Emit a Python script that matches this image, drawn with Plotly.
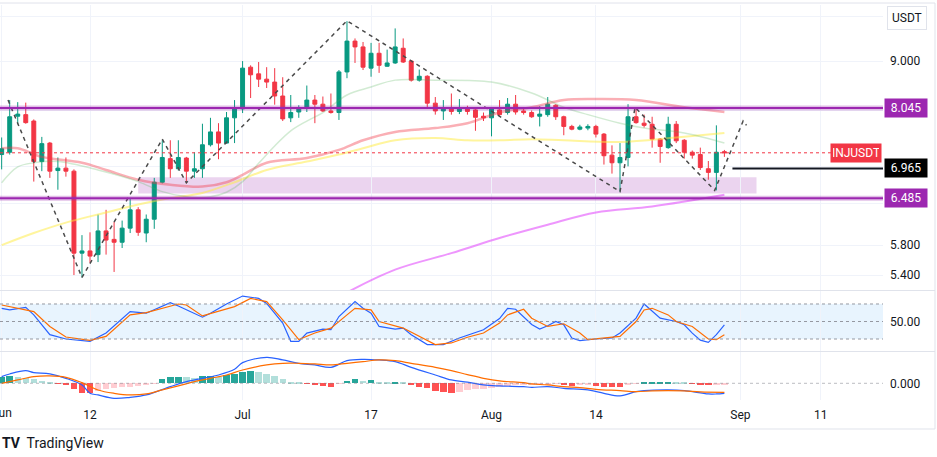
import math
import pandas as pd
import plotly.graph_objects as go

# daily candles, INJUSDT, Jun 1 - Aug 30 2023
dates = pd.date_range("2023-06-01", "2023-08-30", freq="D")

opens = [7.20, 7.24, 7.89, 7.92, 7.80, 7.08, 7.40, 6.93, 6.97, 6.92, 5.69, 5.72, 5.67, 6.00, 5.88,
         5.84, 6.04, 6.31, 5.97, 6.17, 6.74, 7.13, 6.96, 7.14, 6.92, 6.96, 7.37, 7.60, 7.40, 7.86,
         8.03, 8.87, 8.73, 8.62, 8.56, 8.28, 7.86, 7.97, 8.05, 8.20, 8.12, 7.99, 7.96, 8.77, 9.44,
         9.31, 8.85, 9.17, 8.89, 8.96, 9.28, 9.00, 8.60, 8.68, 8.14, 7.99, 8.04, 7.98, 8.04, 8.01, 7.89,
         7.86, 8.01, 7.96, 8.12, 7.99, 7.96, 7.89, 7.92, 8.10, 7.88, 7.70, 7.65, 7.67, 7.70, 7.56,
         7.19, 7.06, 7.15, 7.88, 7.76, 7.74, 7.47, 7.32, 7.74, 7.45, 7.24, 7.20, 6.96, 6.90, 7.25]
highs = [7.50, 8.20, 8.16, 8.15, 7.83, 7.51, 7.42, 7.15, 7.15, 6.95, 5.94, 5.98, 6.24, 6.31, 6.13,
         6.15, 6.48, 6.35, 6.24, 6.81, 7.45, 7.45, 7.45, 7.16, 7.24, 7.75, 7.86, 7.76, 7.97, 8.20,
         9.00, 8.91, 8.98, 8.87, 8.85, 8.66, 8.30, 8.10, 8.49, 8.30, 8.27, 8.33, 8.81, 9.90, 9.50,
         9.42, 9.40, 9.40, 9.25, 9.73, 9.50, 9.02, 8.82, 8.70, 8.26, 8.20, 8.33, 8.22, 8.09, 8.05, 7.96,
         8.05, 8.20, 8.24, 8.30, 8.06, 8.00, 8.08, 8.26, 8.12, 7.90, 7.73, 7.73, 7.74, 7.73, 7.58,
         7.36, 7.40, 8.12, 8.06, 7.92, 7.88, 7.49, 7.88, 7.80, 7.47, 7.27, 7.32, 7.09, 7.72, 7.28]
lows = [6.95, 7.20, 7.74, 7.75, 6.75, 6.92, 6.81, 6.62, 6.83, 5.40, 5.37, 5.56, 5.57, 5.67, 5.44,
        5.76, 5.97, 5.93, 5.84, 6.03, 6.72, 6.81, 6.93, 6.72, 6.81, 6.81, 7.34, 7.12, 7.39, 7.40,
        7.95, 8.24, 8.46, 8.44, 8.11, 7.80, 7.78, 7.86, 7.97, 7.76, 7.97, 7.94, 7.82, 8.64, 8.96,
        8.81, 8.67, 8.75, 8.88, 8.94, 8.96, 8.57, 8.57, 8.04, 7.92, 7.82, 7.92, 7.93, 7.92, 7.62, 7.80,
        7.52, 7.90, 7.92, 7.92, 7.92, 7.86, 7.70, 7.88, 7.82, 7.54, 7.63, 7.63, 7.63, 7.50, 7.03,
        6.88, 6.59, 7.00, 7.75, 7.68, 7.32, 7.06, 7.30, 7.40, 7.13, 7.13, 6.94, 6.78, 6.61, 7.16]
closes = [7.30, 7.88, 7.93, 7.77, 7.08, 7.39, 6.92, 6.97, 6.92, 5.69, 5.72, 5.65, 6.00, 5.87, 5.84,
          6.04, 6.31, 5.98, 6.17, 6.74, 7.15, 6.96, 7.15, 6.92, 6.96, 7.37, 7.60, 7.40, 7.86, 8.03,
          8.85, 8.71, 8.62, 8.56, 8.28, 7.84, 7.96, 8.05, 8.20, 8.12, 7.99, 7.96, 8.77, 9.44, 9.31,
          8.87, 9.17, 8.91, 8.96, 9.31, 8.98, 8.60, 8.68, 8.14, 7.99, 8.04, 7.98, 8.04, 7.98, 7.87, 7.86,
          8.03, 7.92, 8.12, 7.97, 7.96, 7.88, 7.93, 8.12, 7.88, 7.70, 7.65, 7.69, 7.70, 7.56, 7.18,
          7.06, 7.15, 7.88, 7.77, 7.72, 7.47, 7.34, 7.74, 7.44, 7.24, 7.19, 6.98, 6.90, 7.24, 7.23]

# moving averages (read at a few dates)
ma20_dates = ["2023-06-01", "2023-06-03", "2023-06-05", "2023-06-08", "2023-06-13", "2023-06-18",
              "2023-06-21", "2023-06-24", "2023-06-27", "2023-06-29", "2023-07-01", "2023-07-03",
              "2023-07-05", "2023-07-07", "2023-07-09", "2023-07-11", "2023-07-14", "2023-07-17",
              "2023-07-20", "2023-07-25", "2023-08-01", "2023-08-06", "2023-08-10", "2023-08-13",
              "2023-08-17", "2023-08-20", "2023-08-25", "2023-08-30"]
ma20 = [6.73, 6.99, 7.06, 7.08, 6.94, 6.75, 6.59, 6.51, 6.51, 6.58, 6.75, 7.05, 7.35, 7.62, 7.80,
        7.96, 8.30, 8.46, 8.60, 8.60, 8.56, 8.34, 8.06, 7.92, 7.76, 7.67, 7.58, 7.40]

ma50_dates = ["2023-06-01", "2023-06-03", "2023-06-06", "2023-06-11", "2023-06-14", "2023-06-18",
              "2023-06-22", "2023-06-26", "2023-06-29", "2023-07-01", "2023-07-04", "2023-07-09",
              "2023-07-13", "2023-07-16", "2023-07-20", "2023-07-25", "2023-07-29", "2023-08-02",
              "2023-08-06", "2023-08-10", "2023-08-14", "2023-08-19", "2023-08-25", "2023-08-30"]
ma50 = [7.31, 7.31, 7.16, 7.06, 6.94, 6.78, 6.70, 6.67, 6.74, 6.86, 7.06, 7.14, 7.28, 7.45, 7.60,
        7.67, 7.76, 7.96, 8.06, 8.20, 8.22, 8.20, 8.06, 7.97]

ma100_dates = ["2023-06-01", "2023-06-05", "2023-06-09", "2023-06-14", "2023-06-18", "2023-06-22",
               "2023-06-26", "2023-06-30", "2023-07-04", "2023-07-09", "2023-07-13", "2023-07-16",
               "2023-07-20", "2023-07-25", "2023-07-29", "2023-08-02", "2023-08-06", "2023-08-10",
               "2023-08-17", "2023-08-24", "2023-08-30"]
ma100 = [5.80, 5.97, 6.12, 6.27, 6.39, 6.49, 6.57, 6.74, 6.94, 7.08, 7.20, 7.31, 7.45, 7.49, 7.45,
         7.45, 7.47, 7.45, 7.42, 7.50, 7.58]

ma200_dates = ["2023-07-14", "2023-07-20", "2023-07-27", "2023-08-02", "2023-08-08", "2023-08-14",
               "2023-08-21", "2023-08-30"]
ma200 = [5.18, 5.47, 5.69, 5.90, 6.09, 6.27, 6.36, 6.54]

# drawn zigzag path
zig_dates = ["2023-06-01 19:00", "2023-06-11", "2023-06-21", "2023-06-24", "2023-07-14",
             "2023-08-17", "2023-08-18 21:00", "2023-08-28 19:00", "2023-09-01 08:00", "2023-09-01 18:00"]
zig_prices = [8.20, 5.37, 7.47, 6.73, 9.91, 6.59, 8.06, 6.61, 7.80, 7.72]

# key levels
resistance = 8.045
support = 6.485
target = 6.965
last_price = 7.23
zone_low, zone_high = 6.56, 6.82

# stochastic RSI
k_dates = ["2023-06-01", "2023-06-02", "2023-06-04", "2023-06-05", "2023-06-07", "2023-06-09",
           "2023-06-12", "2023-06-14", "2023-06-17", "2023-06-19", "2023-06-22", "2023-06-23",
           "2023-06-26", "2023-06-27", "2023-06-29", "2023-07-01", "2023-07-03", "2023-07-04",
           "2023-07-06", "2023-07-07", "2023-07-08", "2023-07-09", "2023-07-11", "2023-07-12",
           "2023-07-13", "2023-07-15", "2023-07-16", "2023-07-17", "2023-07-18", "2023-07-20",
           "2023-07-21", "2023-07-22", "2023-07-24", "2023-07-26", "2023-07-28", "2023-07-30",
           "2023-07-31", "2023-08-02", "2023-08-03", "2023-08-04", "2023-08-06", "2023-08-07",
           "2023-08-08", "2023-08-09", "2023-08-10", "2023-08-11", "2023-08-12", "2023-08-14",
           "2023-08-16", "2023-08-17", "2023-08-19", "2023-08-20", "2023-08-22", "2023-08-24",
           "2023-08-25", "2023-08-26", "2023-08-27", "2023-08-28", "2023-08-29", "2023-08-30"]
k_vals = [72.6, 69.8, 74.3, 61.3, 27.4, 20, 16, 30.2, 67, 64.2, 82.3, 76.6, 57.4, 64.2, 80, 93.6,
          89.6, 81, 47.2, 16, 16, 30.2, 37, 35.9, 58.5, 84, 72.6, 64.2, 41.5, 37, 38.7, 27.4, 10.4,
          10.4, 21.7, 31.3, 35.9, 55, 72.6, 71, 45, 37, 42.6, 50, 44.3, 21.7, 17.2, 20, 21.7, 30.2,
          55.7, 80, 55.7, 50, 44.3, 30, 18, 14.3, 27.4, 44.3]

d_dates = ["2023-06-01", "2023-06-03", "2023-06-05", "2023-06-07", "2023-06-09", "2023-06-12",
           "2023-06-14", "2023-06-17", "2023-06-19", "2023-06-23", "2023-06-24", "2023-06-26",
           "2023-06-30", "2023-07-02", "2023-07-04", "2023-07-06", "2023-07-08", "2023-07-10",
           "2023-07-12", "2023-07-14", "2023-07-15", "2023-07-17", "2023-07-18", "2023-07-21",
           "2023-07-23", "2023-07-25", "2023-07-27", "2023-07-29", "2023-07-31", "2023-08-02",
           "2023-08-03", "2023-08-05", "2023-08-06", "2023-08-08", "2023-08-10", "2023-08-12",
           "2023-08-13", "2023-08-15", "2023-08-17", "2023-08-19", "2023-08-20", "2023-08-21",
           "2023-08-23", "2023-08-24", "2023-08-26", "2023-08-28", "2023-08-29", "2023-08-30"]
d_vals = [78.3, 72.6, 67, 41.5, 23.4, 17.7, 24.5, 61.3, 65.3, 80, 78.3, 59.6, 75.5, 89.6, 84, 52.8,
          18.9, 30.2, 38.7, 61.3, 72.6, 69.8, 50, 38.7, 24.5, 10.4, 13.2, 23, 30.2, 47.2, 61.3,
          70.9, 55.7, 41.5, 46.1, 30.2, 18.9, 21.7, 24.5, 50, 69.8, 72.6, 61.3, 50, 41.5, 20,
          18.9, 27.4]

# MACD
macd_dates = ["2023-06-01", "2023-06-02", "2023-06-04", "2023-06-05", "2023-06-07", "2023-06-09",
              "2023-06-11", "2023-06-12", "2023-06-13", "2023-06-15", "2023-06-17", "2023-06-19",
              "2023-06-22", "2023-06-24", "2023-06-26", "2023-06-28", "2023-06-30", "2023-07-01",
              "2023-07-04", "2023-07-06", "2023-07-08", "2023-07-10", "2023-07-12", "2023-07-14",
              "2023-07-16", "2023-07-18", "2023-07-20", "2023-07-22", "2023-07-25", "2023-07-27",
              "2023-07-29", "2023-07-31", "2023-08-02", "2023-08-05", "2023-08-06", "2023-08-08",
              "2023-08-10", "2023-08-13", "2023-08-15", "2023-08-17", "2023-08-19", "2023-08-20",
              "2023-08-23", "2023-08-25", "2023-08-28", "2023-08-29", "2023-08-30"]
macd_vals = [0.133, 0.187, 0.253, 0.213, 0.187, 0.10, -0.033, -0.2, -0.233, -0.30, -0.28, -0.233,
             -0.067, 0.033, 0.10, 0.167, 0.28, 0.413, 0.52, 0.467, 0.40, 0.367, 0.32, 0.453, 0.48,
             0.467, 0.433, 0.32, 0.167, 0.067, 0.025, -0.033, -0.053, -0.067, -0.08, -0.067, -0.10,
             -0.133, -0.2, -0.253, -0.167, -0.147, -0.133, -0.147, -0.213, -0.213, -0.2]

signal_dates = ["2023-06-01", "2023-06-03", "2023-06-05", "2023-06-07", "2023-06-09", "2023-06-11",
                "2023-06-13", "2023-06-15", "2023-06-17", "2023-06-19", "2023-06-21", "2023-06-23",
                "2023-06-25", "2023-06-27", "2023-06-29", "2023-07-01", "2023-07-04", "2023-07-06",
                "2023-07-08", "2023-07-10", "2023-07-12", "2023-07-14", "2023-07-16", "2023-07-18",
                "2023-07-20", "2023-07-22", "2023-07-25", "2023-07-27", "2023-07-29", "2023-07-31",
                "2023-08-02", "2023-08-05", "2023-08-06", "2023-08-08", "2023-08-10", "2023-08-12",
                "2023-08-14", "2023-08-17", "2023-08-19", "2023-08-21", "2023-08-23", "2023-08-25",
                "2023-08-27", "2023-08-30"]
signal_vals = [0.0, 0.067, 0.133, 0.147, 0.12, 0.013, -0.133, -0.2, -0.233, -0.213, -0.133, -0.053,
               0.033, 0.10, 0.167, 0.267, 0.367, 0.40, 0.40, 0.387, 0.367, 0.40, 0.433, 0.467,
               0.453, 0.40, 0.32, 0.253, 0.175, 0.10, 0.047, 0.013, -0.013, -0.033, -0.067, -0.087,
               -0.12, -0.147, -0.167, -0.153, -0.147, -0.153, -0.173, -0.18]

hist_vals = [0.133, 0.147, 0.133, 0.107, 0.08, 0.04, 0.013, -0.013, -0.04, -0.12, -0.187, -0.2,
             -0.147, -0.12, -0.093, -0.08, -0.067, -0.053, -0.027, -0.013, 0.08, 0.12, 0.133, 0.12,
             0.107, 0.147, 0.153, 0.133, 0.167, 0.187,
             0.227, 0.253, 0.233, 0.187, 0.147, 0.08, 0.033, 0.013, -0.013, -0.033, -0.053, -0.067,
             -0.013, 0.053, 0.087, 0.053, 0.067, 0.033, 0.013, 0.027, 0.007, -0.04, -0.067, -0.093,
             -0.147, -0.167, -0.187, -0.167, -0.14, -0.12, -0.107,
             -0.093, -0.073, -0.053, -0.04, -0.033, -0.027, -0.027, -0.02, -0.013, -0.04, -0.053,
             -0.033, -0.027, -0.06, -0.067, -0.073, -0.08, -0.027, -0.013, 0.013, 0.013, 0.02,
             0.027, 0.02, 0.013, -0.013, -0.027, -0.033, -0.027, -0.02]

tick_dates = ["2023-06-01", "2023-06-12", "2023-07-01", "2023-07-17", "2023-08-01", "2023-08-14",
              "2023-09-01", "2023-09-11"]
# "Jun" sits on the left edge, plotly would drop it, so it is drawn as an annotation
tick_text = ["", "12", "Jul", "17", "Aug", "14", "Sep", "11"]

# grid levels of the log price scale; the ones hidden behind level tags get no text
price_ticks = [5.4, 5.8, 6.4, 7.0, 8.0, 9.0, 10.0]
price_tick_text = ["5.400", "5.800", "", "", "", "9.000", ""]

UP = "#089981"
DOWN = "#f23645"
PURPLE = "#9c27b0"
X_START, X_END = "2023-05-31 19:00", "2023-09-18 18:00"

# histogram colours follow the usual TradingView rule (grow/fall above/below zero)
hist_colors = []
prev = None
for v in hist_vals:
    rising = prev is None or v >= prev
    if v >= 0:
        hist_colors.append("#26a69a" if rising else "#b2dfdb")
    else:
        hist_colors.append("#ffcdd2" if rising else "#ff5252")
    prev = v

fig = go.Figure()

fig.add_trace(go.Candlestick(
    x=dates, open=opens, high=highs, low=lows, close=closes,
    increasing=dict(line=dict(color=UP, width=1), fillcolor=UP),
    decreasing=dict(line=dict(color=DOWN, width=1), fillcolor=DOWN),
    whiskerwidth=0, yaxis="y", xaxis="x",
))

for xs, ys, col, w in [
    (ma200_dates, ma200, "rgba(224,64,251,0.55)", 2),
    (ma100_dates, ma100, "rgba(255,235,59,0.5)", 2),
    (ma50_dates, ma50, "rgba(242,54,69,0.4)", 2.5),
    (ma20_dates, ma20, "rgba(76,175,80,0.25)", 1.5),
]:
    fig.add_trace(go.Scatter(x=xs, y=ys, mode="lines", line=dict(color=col, width=w, shape="spline"),
                             yaxis="y", hoverinfo="skip"))

fig.add_trace(go.Scatter(x=zig_dates, y=zig_prices, mode="lines",
                         line=dict(color="#4a4a4a", width=1.5, dash="4px,4px"), yaxis="y"))

# stoch RSI
fig.add_trace(go.Scatter(x=k_dates, y=k_vals, mode="lines", line=dict(color="#2962ff", width=1.2),
                         yaxis="y2"))
fig.add_trace(go.Scatter(x=d_dates, y=d_vals, mode="lines", line=dict(color="#ff6d00", width=1.2),
                         yaxis="y2"))

# MACD
fig.add_trace(go.Bar(x=dates, y=hist_vals, marker=dict(color=hist_colors, line=dict(width=0)),
                     width=0.8 * 86400000, yaxis="y3"))
fig.add_trace(go.Scatter(x=macd_dates, y=macd_vals, mode="lines",
                         line=dict(color="#2962ff", width=1.2, shape="spline"), yaxis="y3"))
fig.add_trace(go.Scatter(x=signal_dates, y=signal_vals, mode="lines",
                         line=dict(color="#ff6d00", width=1.2, shape="spline"), yaxis="y3"))

shapes = []
# pane separators and frame
for yp in [0.2772, 0.1228, -0.0734]:
    shapes.append(dict(type="line", xref="paper", yref="paper", x0=0, x1=1.0589, y0=yp, y1=yp,
                       line=dict(color="#e0e3eb", width=1)))
shapes.append(dict(type="line", xref="paper", yref="paper", x0=1.0589, x1=1.0589, y0=-0.0734, y1=1.005,
                   line=dict(color="#e0e3eb", width=1)))
shapes.append(dict(type="line", xref="paper", yref="paper", x0=0, x1=1.0589, y0=1.005, y1=1.005,
                   line=dict(color="#e0e3eb", width=1)))

# support zone
shapes.append(dict(type="rect", xref="x", yref="y", x0="2023-06-18", x1="2023-09-03",
                   y0=zone_low, y1=zone_high, fillcolor="rgba(156,39,176,0.2)", line=dict(width=0),
                   layer="below"))
# horizontal levels
for lvl in [resistance, support]:
    shapes.append(dict(type="line", xref="paper", yref="y", x0=0, x1=1, y0=lvl, y1=lvl,
                       line=dict(color="rgba(156,39,176,0.3)", width=5)))
    shapes.append(dict(type="line", xref="paper", yref="y", x0=0, x1=1, y0=lvl, y1=lvl,
                       line=dict(color=PURPLE, width=2)))
shapes.append(dict(type="line", xref="x", yref="y", x0="2023-08-31", x1=X_END, y0=target, y1=target,
                   line=dict(color="#131722", width=2)))
shapes.append(dict(type="line", xref="paper", yref="y", x0=0, x1=0.942, y0=last_price, y1=last_price,
                   line=dict(color=DOWN, width=1, dash="dot")))

# stoch band
shapes.append(dict(type="rect", xref="x domain", yref="y2", x0=0, x1=1, y0=20, y1=80,
                   fillcolor="rgba(33,150,243,0.1)", line=dict(width=0), layer="below"))
for lvl in [80, 50, 20]:
    shapes.append(dict(type="line", xref="x domain", yref="y2", x0=0, x1=1, y0=lvl, y1=lvl,
                       line=dict(color="#9598a1", width=1, dash="3px,3px")))
shapes.append(dict(type="line", xref="x domain", yref="y3", x0=0, x1=1, y0=0, y1=0,
                   line=dict(color="rgba(120,123,134,0.5)", width=1, dash="3px,3px")))

annotations = [
    dict(text="USDT", xref="paper", yref="paper", x=1, y=0.968, xanchor="left", yanchor="middle",
         xshift=4, showarrow=False, bgcolor="white", bordercolor="#e0e3eb", borderwidth=1,
         borderpad=4, font=dict(size=12, color="#131722")),
    dict(text="Jun", xref="x", yref="paper", x=tick_dates[0], y=-0.034, xanchor="center",
         yanchor="middle", showarrow=False, font=dict(size=12, color="#131722")),
    dict(text="<b>TV</b>  TradingView", xref="paper", yref="paper", x=0, y=-0.108, xanchor="left",
         yanchor="middle", showarrow=False, font=dict(size=14, color="#131722")),
    dict(text="INJUSDT", xref="paper", yref="y", x=1, y=math.log10(last_price), xanchor="right",
         yanchor="middle", xshift=-1, showarrow=False, bgcolor=DOWN, borderpad=2, width=46,
         font=dict(size=12, color="white")),
]
for lvl, col in [(resistance, PURPLE), (support, PURPLE), (target, "#000000")]:
    annotations.append(dict(text=f"{lvl:.3f}", xref="paper", yref="y", x=1, y=math.log10(lvl),
                            xanchor="left", yanchor="middle", xshift=1, showarrow=False, bgcolor=col,
                            borderpad=2, width=38, font=dict(size=12, color="white")))

fig.update_layout(
    width=937, height=457,
    margin=dict(l=0, r=54, t=5, b=57),
    paper_bgcolor="white", plot_bgcolor="white",
    font=dict(family="Roboto, sans-serif", size=12, color="#131722"),
    showlegend=False,
    bargap=0,
    xaxis=dict(type="date", range=[X_START, X_END], anchor="y3", tickvals=tick_dates,
               ticktext=tick_text, showgrid=True, gridcolor="#f0f3fa", zeroline=False,
               showline=False, ticks="", rangeslider=dict(visible=False), ticklabelstandoff=6),
    yaxis=dict(domain=[0.2785, 1], type="log", range=[0.7169, 1.0124], side="right", anchor="x",
               tickvals=price_ticks, ticktext=price_tick_text,
               gridcolor="#f0f3fa", zeroline=False, showline=False, ticks="", ticklabelstandoff=6),
    yaxis2=dict(domain=[0.124, 0.276], range=[-0.6, 102.3], side="right", anchor="x",
                tickvals=[50], ticktext=["50.00"], showgrid=False, zeroline=False, ticks="",
                ticklabelstandoff=6),
    yaxis3=dict(domain=[0, 0.1215], range=[-0.334, 0.626], side="right", anchor="x",
                tickvals=[0], ticktext=["0.000"], showgrid=False, zeroline=False, ticks="",
                ticklabelstandoff=6),
    shapes=shapes,
    annotations=annotations,
)

# the page's default body margin would shift the chart by 8px
fig.write_html("out.html", config={"displayModeBar": False},
               post_script="document.body.style.margin='0';")
